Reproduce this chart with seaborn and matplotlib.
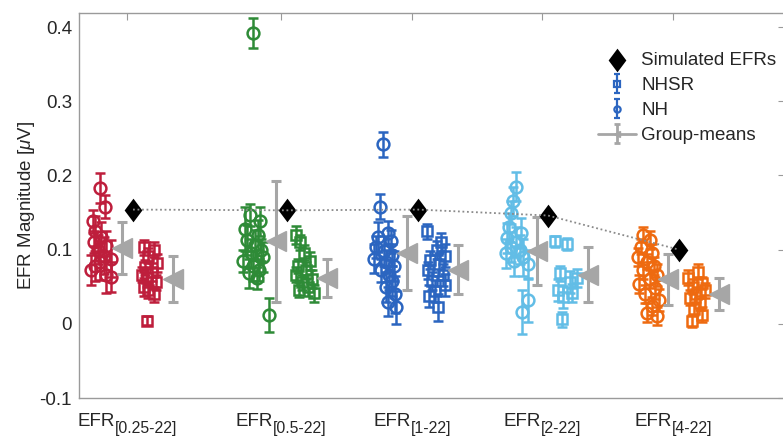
import numpy as np
import pandas as pd
import matplotlib
matplotlib.use('Agg')
import matplotlib.pyplot as plt
import seaborn as sns

# ---------------- data ----------------
groups = ['0.25-22', '0.5-22', '1-22', '2-22', '4-22']
sim_efr = [0.154, 0.153, 0.154, 0.146, 0.100]
nh_mean = [0.102, 0.111, 0.096, 0.098, 0.060]
nh_sd = [0.035, 0.081, 0.050, 0.046, 0.034]
nhsr_mean = [0.060, 0.062, 0.073, 0.066, 0.040]
nhsr_sd = [0.031, 0.026, 0.033, 0.037, 0.022]

nh_values = [
    [0.183, 0.158, 0.138, 0.125, 0.117, 0.110, 0.105, 0.100, 0.092, 0.088, 0.084, 0.078, 0.073, 0.066, 0.063],
    [0.392, 0.147, 0.138, 0.128, 0.120, 0.113, 0.106, 0.100, 0.095, 0.090, 0.085, 0.078, 0.073, 0.068, 0.062, 0.012],
    [0.242, 0.158, 0.123, 0.117, 0.111, 0.104, 0.098, 0.093, 0.088, 0.084, 0.078, 0.072, 0.066, 0.058, 0.050, 0.040, 0.030, 0.022],
    [0.185, 0.165, 0.150, 0.130, 0.122, 0.116, 0.110, 0.104, 0.100, 0.095, 0.090, 0.085, 0.080, 0.032, 0.016],
    [0.120, 0.113, 0.104, 0.096, 0.090, 0.084, 0.078, 0.072, 0.066, 0.060, 0.054, 0.048, 0.040, 0.032, 0.024, 0.015, 0.010],
]
nh_err = [
    [0.020, 0.015, 0.015, 0.020, 0.020, 0.015, 0.020, 0.020, 0.025, 0.025, 0.025, 0.020, 0.020, 0.025, 0.020],
    [0.020, 0.015, 0.020, 0.030, 0.020, 0.020, 0.020, 0.015, 0.020, 0.020, 0.015, 0.020, 0.015, 0.020, 0.015, 0.023],
    [0.017, 0.017, 0.015, 0.020, 0.015, 0.015, 0.020, 0.015, 0.020, 0.015, 0.020, 0.015, 0.020, 0.020, 0.020, 0.025, 0.020, 0.022],
    [0.020, 0.020, 0.015, 0.020, 0.020, 0.020, 0.020, 0.020, 0.020, 0.020, 0.025, 0.020, 0.020, 0.030, 0.030],
    [0.010, 0.012, 0.010, 0.012, 0.012, 0.010, 0.012, 0.012, 0.015, 0.012, 0.012, 0.015, 0.012, 0.015, 0.012, 0.013, 0.012],
]
nhsr_values = [
    [0.103, 0.100, 0.092, 0.082, 0.076, 0.070, 0.066, 0.062, 0.056, 0.050, 0.045, 0.040, 0.004],
    [0.120, 0.110, 0.096, 0.085, 0.078, 0.072, 0.066, 0.060, 0.056, 0.050, 0.046, 0.041],
    [0.125, 0.110, 0.100, 0.092, 0.086, 0.080, 0.072, 0.066, 0.058, 0.052, 0.044, 0.038, 0.022],
    [0.111, 0.108, 0.068, 0.062, 0.056, 0.046, 0.042, 0.036, 0.006],
    [0.070, 0.062, 0.055, 0.050, 0.045, 0.040, 0.035, 0.028, 0.020, 0.012, 0.004],
]
nhsr_err = [
    [0.010, 0.010, 0.010, 0.012, 0.010, 0.012, 0.010, 0.012, 0.010, 0.012, 0.010, 0.010, 0.006],
    [0.012, 0.010, 0.010, 0.012, 0.010, 0.012, 0.010, 0.012, 0.010, 0.012, 0.010, 0.012],
    [0.010, 0.012, 0.012, 0.015, 0.012, 0.015, 0.012, 0.015, 0.012, 0.015, 0.015, 0.015, 0.018],
    [0.008, 0.008, 0.010, 0.012, 0.015, 0.015, 0.012, 0.015, 0.010],
    [0.010, 0.010, 0.008, 0.010, 0.010, 0.010, 0.010, 0.010, 0.008, 0.010, 0.008],
]
tick_main = 'EFR'
tick_subs = ['[%s]' % g for g in groups]
y_ticks = [-0.1, 0, 0.1, 0.2, 0.3, 0.4]
y_tick_labels = ['-0.1', '0', '0.1', '0.2', '0.3', '0.4']

# ---------------- layout / style ----------------
TICK_X = [127, 281, 412, 542, 673]
OFF_NH, OFF_NHM, OFF_SIM, OFF_SR, OFF_SRM = -26, -5, 6, 23, 46
NH_JIT = [
    [-1, 4, -8, -6, 0, -7, 5, -3, 3, 10, -1, -6, -10, 5, 10],
    [-2, -5, 5, -10, 3, -8, 0, 6, -4, 8, -12, -2, 4, -6, 2, 14],
    [-3, -6, 2, -8, 5, -10, -2, 6, -12, 0, 8, -5, 3, 6, 0, 9, 2, 10],
    [0, -3, -5, -7, 5, -9, 0, -5, 4, -10, 7, -2, 12, 12, 6],
    [-4, 3, -6, 5, -9, 0, 7, -4, 10, 3, -8, 8, -2, 12, 5, 0, 10],
]
SR_JIT = [
    [-6, 4, -2, 7, -5, 2, -8, -3, 6, -6, -2, 4, -3],
    [-8, -4, 0, 6, -6, 2, -8, 8, -2, 4, -5, 10],
    [-8, 6, 2, 10, -5, 4, -7, 8, -3, 10, 0, -6, 3],
    [-10, 2, -5, 12, 5, -7, 7, -2, -3],
    [2, -8, 6, -3, 9, 0, -6, 4, -2, 6, -4],
]
colors = ['#BE1E3C', '#2E8B37', '#2B65C0', '#62BDE6', '#EE6A10']
GRAY = '#A6A6A6'
AX_COL = '#9A9A9A'
TXT = '#262626'
FS = 13.5
FS_SUB = 11.4

sns.set_theme(style='white')
plt.rcParams['font.family'] = ['Liberation Sans', 'DejaVu Sans']
plt.rcParams['mathtext.fontset'] = 'custom'
plt.rcParams['mathtext.rm'] = 'Liberation Sans'
plt.rcParams['mathtext.it'] = 'Liberation Sans:italic'
plt.rcParams['axes.unicode_minus'] = False

fig = plt.figure(figsize=(7.83, 4.36), dpi=100)
ax = fig.add_axes([79 / 783, 38 / 436, 706 / 783, 385 / 436])

sim_df = pd.DataFrame({'x': [t + OFF_SIM for t in TICK_X], 'value': sim_efr})
diamond = [(0, 1), (0.75, 0), (0, -1), (-0.75, 0), (0, 1)]

for i in range(len(groups)):
    c = colors[i]
    nh_x = [TICK_X[i] + OFF_NH + j for j in NH_JIT[i]]
    ax.errorbar(nh_x, nh_values[i], yerr=nh_err[i], fmt='o', ms=8.5, mfc='none',
                mec=c, mew=1.8, ecolor=c, elinewidth=1.8, capsize=3.6,
                capthick=1.8, zorder=3)
    sr_x = [TICK_X[i] + OFF_SR + j for j in SR_JIT[i]]
    ax.errorbar(sr_x, nhsr_values[i], yerr=nhsr_err[i], fmt='s', ms=6.5, mfc='none',
                mec=c, mew=1.8, ecolor=c, elinewidth=1.8, capsize=3.6,
                capthick=1.8, zorder=3)
    ax.errorbar([TICK_X[i] + OFF_NHM], [nh_mean[i]], yerr=[nh_sd[i]], fmt='<',
                ms=15, color=GRAY, ecolor=GRAY, elinewidth=2.2, capsize=3.4,
                capthick=2.2, zorder=4)
    ax.errorbar([TICK_X[i] + OFF_SRM], [nhsr_mean[i]], yerr=[nhsr_sd[i]], fmt='<',
                ms=15, color=GRAY, ecolor=GRAY, elinewidth=2.2, capsize=3.4,
                capthick=2.2, zorder=4)

# simulated diamonds, with the dotted line drawn over them
sns.scatterplot(data=sim_df, x='x', y='value', ax=ax, marker=diamond, s=290,
                color='black', edgecolor='black', linewidth=0, zorder=5)
sns.lineplot(data=sim_df, x='x', y='value', ax=ax, color='#8A8A8A',
             linestyle=(0, (1, 1.5)), linewidth=1.3, zorder=6, sort=False)

# axes styling
ax.set_xlim(79, 785)
ax.set_ylim(-0.1, 0.419)
ax.set_xticks(TICK_X)
ax.set_xticklabels([''] * len(TICK_X))
ax.set_yticks(y_ticks)
ax.set_yticklabels(y_tick_labels, fontsize=FS, color=TXT)
ax.tick_params(axis='both', direction='in', length=5, width=0.8, color=AX_COL,
               top=True, right=True)
ax.tick_params(axis='y', pad=5)
for s in ax.spines.values():
    s.set_color(AX_COL)
    s.set_linewidth(1.0)
ax.set_xlabel('')
ax.set_ylabel(r'EFR Magnitude [$\mathit{\mu}$V]', fontsize=FS, color=TXT)
ax.yaxis.set_label_coords(-0.059, 0.5)

# x tick labels with lowered subscripts
pairs = []
for i in range(len(TICK_X)):
    t1 = ax.annotate(tick_main, xy=(TICK_X[i], 0), xycoords=('data', 'axes fraction'),
                     xytext=(0, -20.2), textcoords='offset points', ha='right',
                     va='baseline', fontsize=FS, color=TXT, annotation_clip=False)
    t2 = ax.annotate(tick_subs[i], xy=(TICK_X[i], 0), xycoords=('data', 'axes fraction'),
                     xytext=(0, -25.4), textcoords='offset points', ha='left',
                     va='baseline', fontsize=FS_SUB, color=TXT, annotation_clip=False)
    pairs.append((t1, t2))
fig.canvas.draw()
r = fig.canvas.get_renderer()
for t1, t2 in pairs:
    w1 = t1.get_window_extent(r).width
    w2 = t2.get_window_extent(r).width
    dx = (w1 - w2) / 2 * 72 / fig.dpi
    t1.xyann = (dx, -20.2)
    t2.xyann = (dx, -25.4)

# legend
h_sim = ax.scatter([np.nan], [np.nan], marker=diamond, s=290, color='black', linewidth=0)
h_sr = ax.errorbar([np.nan], [np.nan], yerr=[0.01], fmt='s', ms=4, mfc='none',
                   mec=colors[2], mew=1.6, ecolor=colors[2], elinewidth=1.6,
                   capsize=2.5, capthick=1.6)
h_nh = ax.errorbar([np.nan], [np.nan], yerr=[0.01], fmt='o', ms=4.5, mfc='none',
                   mec=colors[2], mew=1.6, ecolor=colors[2], elinewidth=1.6,
                   capsize=2.5, capthick=1.6)
h_gm = ax.errorbar([np.nan], [np.nan], yerr=[0.01], fmt='-', marker='<', ms=4,
                   color=GRAY, ecolor=GRAY, elinewidth=2.0, capsize=2.5,
                   capthick=2.0, lw=2.0)
leg = ax.legend([h_sim, h_sr, h_nh, h_gm],
                ['Simulated EFRs', 'NHSR', 'NH', 'Group-means'],
                loc='upper left', bbox_to_anchor=(598 / 783, 1 - 52 / 436),
                bbox_transform=fig.transFigure, frameon=False, fontsize=FS,
                handlelength=2.0, handletextpad=0.3, labelspacing=0.42,
                borderpad=0, borderaxespad=0)
for t in leg.get_texts():
    t.set_color(TXT)

fig.savefig('out.png', dpi=100)
